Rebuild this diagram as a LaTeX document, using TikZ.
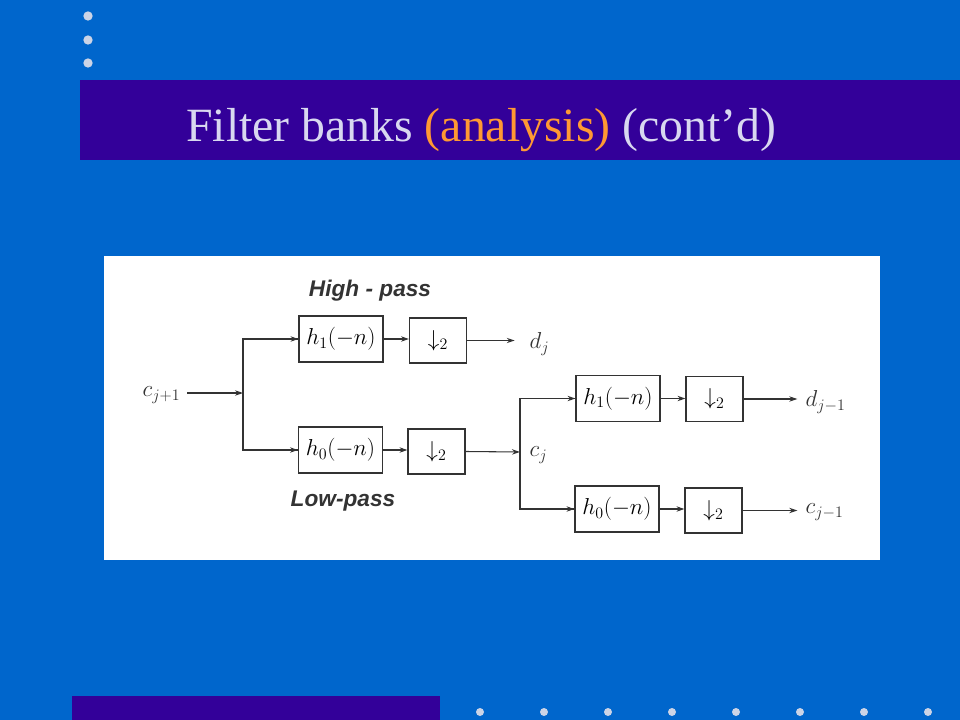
\documentclass[tikz,border=0pt]{standalone}
\usepackage{fontspec}
\newfontfamily\titlefont{Liberation Serif}
\newfontfamily\handfont{Liberation Sans}
\usetikzlibrary{arrows.meta}
\definecolor{bg}{HTML}{0066CC}
\definecolor{bar}{HTML}{330099}
\definecolor{dotc}{HTML}{CCD4E6}
\definecolor{titlec}{HTML}{D8D8F0}
\definecolor{orng}{HTML}{FF9933}
\definecolor{ink}{HTML}{333333}
\tikzset{
  blk/.style={draw=ink, line width=0.8pt, minimum width=63pt, minimum height=34.5pt, inner sep=0pt, font=\fontsize{16.5}{18}\selectfont},
  dsb/.style={draw=ink, line width=0.8pt, minimum width=42.75pt, minimum height=33.75pt, inner sep=0pt, font=\fontsize{16.5}{18}\selectfont},
  sig/.style={inner sep=1pt, font=\fontsize{17}{19}\selectfont, text=ink},
  wire/.style={draw=ink, line width=0.8pt},
  arr/.style={wire, -{Stealth[length=6pt,width=4pt]}},
  hand/.style={font=\handfont\bfseries\itshape\fontsize{17}{19}\selectfont, text=ink},
  sdot/.style={fill=dotc, draw=none, circle, minimum size=7pt, inner sep=0pt}
}
\begin{document}
\begin{tikzpicture}[x=0.75pt, y=-0.75pt]
\fill[bg] (0,0) rectangle (960,720);
\useasboundingbox (0,0) rectangle (960,720);
% top dots
\node[sdot] (t1) at (88,16) {};
\node[sdot] (t2) at (88,40) {};
\node[sdot] (t3) at (88,63) {};
% title bar
\fill[bar] (80,80) rectangle (960,160);
\node[anchor=base west, inner sep=0pt, text=titlec, font=\titlefont\fontsize{35.8}{40}\selectfont] (title) at (186,142) {Filter banks \textcolor{orng}{(analysis)} (cont’d)};
% bottom bar and dots
\fill[bar] (72,696) rectangle (440,720);
\foreach \i [count=\k] in {480,544,608,672,736,800,864,928} {
  \node[sdot, minimum size=6pt] (b\k) at (\i,712) {};
}
% white panel
\fill[white] (104,256) rectangle (880,560);
% diagram
\node[sig, anchor=east] (cin) at (182,395) {$c_{j+1}$};
\coordinate (s1) at (243,393);
\node[blk] (h1a) at (341,339) {$h_1(-n)$};
\node[dsb] (d1a) at (438,340.5) {$\downarrow_2$};
\node[blk] (h0a) at (340.5,450) {$h_0(-n)$};
\node[dsb] (d0a) at (436.5,451.5) {$\downarrow_2$};
\node[sig, anchor=west] (dj) at (528,344) {$d_j$};
\coordinate (s2) at (520,452);
\node[sig, anchor=west] (cj) at (528,455) {$c_j$};
\node[blk] (h1b) at (618,398.5) {$h_1(-n)$};
\node[dsb] (d1b) at (714.5,399) {$\downarrow_2$};
\node[blk] (h0b) at (617,509) {$h_0(-n)$};
\node[dsb] (d0b) at (713.5,510.5) {$\downarrow_2$};
\node[sig, anchor=west] (dj1) at (804,402) {$d_{j-1}$};
\node[sig, anchor=west] (cj1) at (804,512) {$c_{j-1}$};
\node[hand] (hp) at (370,291) {High - pass};
\node[hand] (lp) at (343,501) {Low-pass};
% connectors
\draw[arr] (cin.east) ++(5,-2) -- (s1);
\draw[wire] (s1) |- (h1a.west);
\draw[arr] (s1 |- h1a.west) -- (h1a.west);
\draw[wire] (s1) |- (h0a.west);
\draw[arr] (s1 |- h0a.west) -- (h0a.west);
\draw[arr] (h1a.east) -- (d1a.west |- h1a.east);
\draw[arr] (h0a.east) -- (d0a.west |- h0a.east);
\draw[arr, shorten >=10pt] (d1a.east) -- (dj.west |- d1a.east);
\draw[arr] (d0a.east) -- (s2);
\draw[wire] (s2) |- (h1b.west);
\draw[arr] (s2 |- h1b.west) -- (h1b.west);
\draw[wire] (s2) |- (h0b.west);
\draw[arr] (s2 |- h0b.west) -- (h0b.west);
\draw[arr] (h1b.east) -- (d1b.west |- h1b.east);
\draw[arr] (h0b.east) -- (d0b.west |- h0b.east);
\draw[arr, shorten >=5pt] (d1b.east) -- (dj1.west |- d1b.east);
\draw[arr, shorten >=5pt] (d0b.east) -- (cj1.west |- d0b.east);
\end{tikzpicture}
\end{document}
